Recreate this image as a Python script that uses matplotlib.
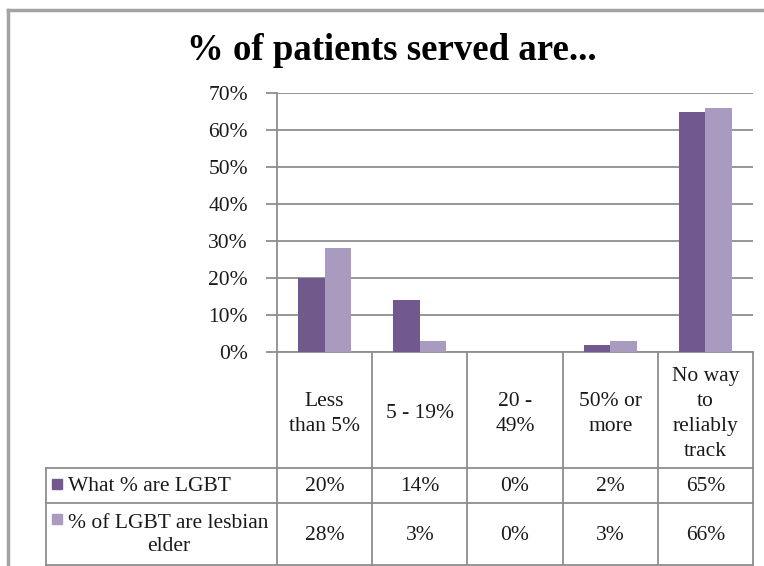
import matplotlib
matplotlib.use("Agg")
import matplotlib.pyplot as plt
from matplotlib.lines import Line2D
from matplotlib.patches import Rectangle

# ---- data ----
categories = ["Less\nthan 5%", "5 - 19%", "20 -\n49%", "50% or\nmore", "No way\nto\nreliably\ntrack"]
series_names = ["What % are LGBT", "% of LGBT are lesbian\nelder"]
lgbt = [20, 14, 0, 2, 65]
lesbian_elder = [28, 3, 0, 3, 66]
yticks = [0, 10, 20, 30, 40, 50, 60, 70]
title = "% of patients served are..."

# ---- style ----
W, H = 764, 566
DARK = "#71598E"
LIGHT = "#A99ABF"
GRID = "#8E8E8E"
FRAME = "#A3A3A3"
TXT = "#1A1A1A"
FONT = "Liberation Serif"
FS = 15.5

plt.rcParams["font.family"] = [FONT, "DejaVu Serif"]

fig = plt.figure(figsize=(W / 100, H / 100), dpi=100)


def fx(px):
    return px / W


def fy(py):
    return 1 - py / H


# plot area in pixels
L, R, T, B = 277, 753, 93, 352
ax = fig.add_axes([fx(L), fy(B), fx(R - L), (B - T) / H])
n = len(categories)
xs = list(range(n))
bw = 0.278
ax.bar([x - bw / 2 for x in xs], lgbt, width=bw, color=DARK, zorder=3)
ax.bar([x + bw / 2 for x in xs], lesbian_elder, width=bw, color=LIGHT, zorder=3)
ax.set_xlim(-0.5, n - 0.5)
ax.set_ylim(0, 70)
ax.set_yticks(yticks)
ax.set_yticklabels([f"{v}%" for v in yticks], fontsize=FS, color=TXT)
ax.set_xticks([])
for s in ["top", "right"]:
    ax.spines[s].set_visible(False)
for s in ["left", "bottom"]:
    ax.spines[s].set_color(GRID)
    ax.spines[s].set_linewidth(1.3)
ax.tick_params(axis="y", length=8, width=1.3, color=GRID, pad=13, direction="out")
ax.yaxis.grid(True, color=GRID, linewidth=1.3, zorder=0)
ax.set_axisbelow(True)

# table axes
TL, TB = 46, 565
unit = (R - L) / n
left_data = -0.5 - (L - TL) / unit
tax = fig.add_axes([fx(TL), fy(TB), fx(R - TL), (TB - B) / H])
tax.set_xlim(left_data, n - 0.5)
tax.set_ylim(TB - B, 0)
tax.axis("off")
h0 = 468 - B
h1 = 503 - B
h2 = TB - B
lk = dict(color=GRID, linewidth=1.3, clip_on=False)
for i in range(n + 1):
    tax.plot([-0.5 + i, -0.5 + i], [0, h2], **lk)
tax.plot([left_data, left_data], [h0, h2], **lk)
tax.plot([left_data, n - 0.5], [h0, h0], **lk)
tax.plot([left_data, n - 0.5], [h1, h1], **lk)
tax.plot([left_data, n - 0.5], [h2, h2], **lk)

for i, c in enumerate(categories):
    tax.text(i, h0 / 2 + 4, c, ha="center", va="center", fontsize=FS, color=TXT,
             linespacing=1.42)
for i in range(n):
    tax.text(i, (h0 + h1) / 2 + 1, f"{lgbt[i]}%", ha="center", va="center", fontsize=FS, color=TXT)
    tax.text(i, (h1 + h2) / 2 + 1, f"{lesbian_elder[i]}%", ha="center", va="center", fontsize=FS, color=TXT)


def pxd(px):
    return -0.5 + (px - L) / unit


sq = 10 / unit
tax.add_patch(Rectangle((pxd(52), 479 - B), sq, 10, color=DARK, clip_on=False))
tax.add_patch(Rectangle((pxd(52), 514 - B), sq, 10, color=LIGHT, clip_on=False))
tax.text(pxd(68), (h0 + h1) / 2 + 1, series_names[0], ha="left", va="center",
         fontsize=FS, color=TXT)
tax.text(pxd(68), (h1 + h2) / 2 + 1, series_names[1], ha="left", va="center",
         fontsize=FS, color=TXT, multialignment="center", linespacing=1.3)

# title
fig.text(fx(392), fy(60), title, ha="center", va="baseline", fontsize=26.5,
         fontweight="bold", color="#000000")

# outer frame
fig.add_artist(Line2D([fx(8), fx(W)], [fy(10), fy(10)], color=FRAME, linewidth=2.5))
fig.add_artist(Line2D([fx(8), fx(8)], [fy(10), fy(H)], color=FRAME, linewidth=2.5))

fig.savefig("out.png", dpi=100)
